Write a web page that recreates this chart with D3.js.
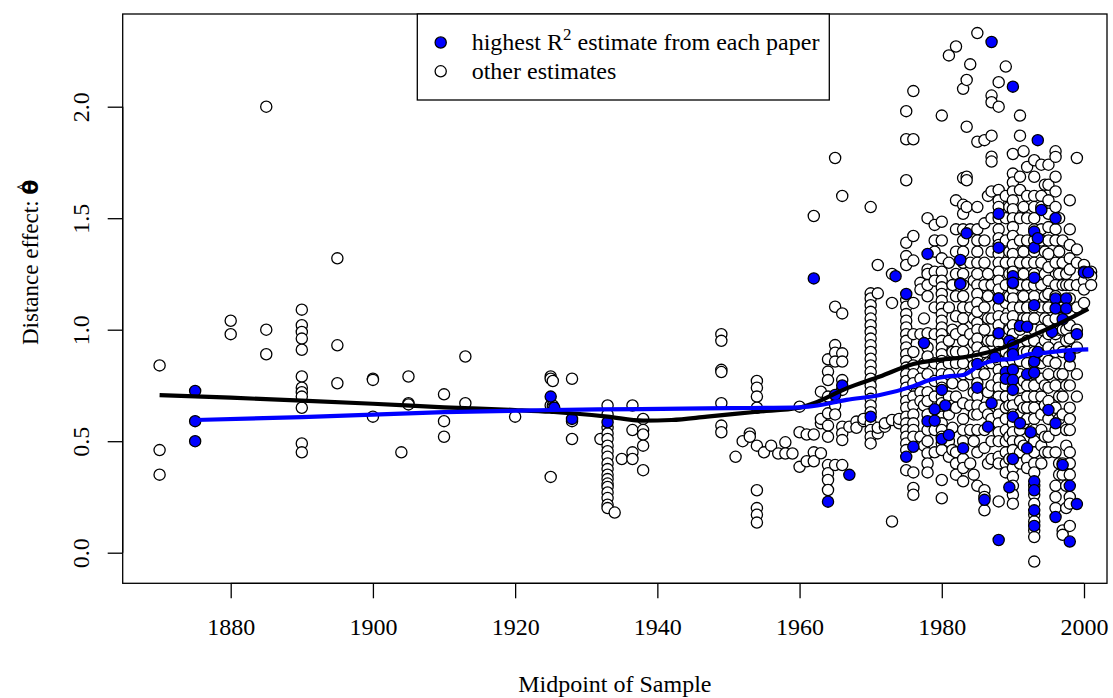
<!DOCTYPE html>
<html><head><meta charset="utf-8">
<script src="https://cdn.jsdelivr.net/npm/d3@7"></script>
<style>body{margin:0;background:#fff}svg{display:block}text{font-family:"Liberation Serif","Times New Roman",serif}</style>
</head><body><svg id="c" width="1113" height="698"></svg>
<script>
const xTicks=[1880,1900,1920,1940,1960,1980,2000];
const yTicks=[0,0.5,1,1.5,2];
const yTickLabels=["0.0","0.5","1.0","1.5","2.0"];

// highest R^2 estimate from each paper
const blueYears=[1875,1875,1875,1925,1925.5,1928,1933,1962,1964,1965,1966,1967,1970,1973.5,1975,1975,1976,1977.5,1978,1978,1979,1979,1980,1980,1980.5,1981,1982.6,1982.6,1982.6,1983,1983.5,1985,1985,1986,1986.5,1987,1987,1987.5,1988,1988,1988,1988,1988,1989,1989,1989.5,1989.5,1990,1990,1990,1990,1990,1990,1990,1990,1990,1990,1990,1991,1991,1992,1992,1992,1992.5,1993,1993,1993,1993,1993,1993,1993,1993,1993,1993,1993.5,1993.5,1993.5,1994,1995,1995.5,1996,1996,1996,1996,1996,1997,1997,1997.5,1997.5,1998,1998,1998,1999,1999,2000,2000.6];
const blueValues=[0.725,0.59,0.50,0.70,0.65,0.60,0.585,1.23,0.229,0.707,0.75,0.349,0.61,1.24,1.16,0.43,0.475,0.94,1.34,0.59,0.643,0.592,0.73,0.51,0.66,0.528,1.313,1.208,1.205,0.468,1.432,0.74,0.846,0.237,0.565,2.29,0.67,0.876,1.52,1.368,1.14,0.984,0.057,0.81,0.78,0.95,0.293,2.09,1.24,1.208,1.21,0.93,0.89,0.82,0.775,0.73,0.61,0.42,1.017,0.58,1.013,0.80,0.468,0.54,1.44,1.368,1.233,1.11,0.857,0.807,0.32,0.28,0.19,0.12,1.85,1.41,0.90,1.537,0.64,0.99,1.50,1.14,1.095,0.58,0.16,1.047,0.393,1.14,1.095,0.88,0.30,0.05,0.98,0.218,1.257,1.257];

// other estimates, grouped by midpoint year
const otherCols=[
[1870,[0.84,0.46,0.35]],
[1880,[1.04,0.98]],
[1885,[2.0,1.0,0.89]],
[1890,[1.09,1.02,0.99,0.96,0.91,0.79,0.74,0.72,0.70,0.65,0.49,0.45]],
[1895,[1.32,0.93,0.76]],
[1900,[0.78,0.775,0.61]],
[1904,[0.45]],
[1905,[0.79,0.67,0.665]],
[1910,[0.71,0.59,0.52]],
[1913,[0.88,0.67]],
[1920,[0.61]],
[1925,[0.79,0.78,0.66,0.34]],
[1925.3,[0.77,0.66,0.65]],
[1928,[0.78,0.59,0.51]],
[1932,[0.51]],
[1933,[0.66,0.62,0.56,0.535,0.51,0.48,0.455,0.43,0.40,0.375,0.35,0.33,0.31,0.295,0.27,0.245,0.215,0.20]],
[1934,[0.18]],
[1935,[0.42]],
[1936.5,[0.66,0.55,0.45,0.42]],
[1938,[0.60,0.55,0.53,0.48,0.37]],
[1949,[0.98,0.95,0.82,0.81,0.67,0.57,0.54]],
[1951,[0.43]],
[1952,[0.50]],
[1953,[0.535,0.52]],
[1954,[0.77,0.74,0.70,0.65,0.48,0.28,0.20,0.17,0.135]],
[1955,[0.45]],
[1956,[0.48]],
[1957,[0.445]],
[1958,[0.495,0.445]],
[1959,[0.445]],
[1960,[0.655,0.54,0.385]],
[1961,[0.53,0.41]],
[1962,[1.51,0.45,0.41,0.53]],
[1963,[0.722,0.58,0.446,0.60]],
[1964,[0.867,0.812,0.774,0.70,0.625,0.57,0.52,0.393,0.356,0.326,0.281]],
[1965,[1.77,1.103,0.931,0.897,0.857,0.66,0.62,0.393]],
[1966,[1.60,1.073,0.894,0.857,0.774,0.73,0.565,0.535,0.505,0.393]],
[1967,[0.565]],
[1968,[0.588,0.56]],
[1969,[0.59,0.60]],
[1970,[1.55,1.163,1.14,1.11,1.08,1.05,1.02,0.99,0.96,0.93,0.90,0.87,0.84,0.81,0.78,0.75,0.72,0.69,0.66,0.63,0.58,0.55,0.52,0.49]],
[1971,[1.29,1.163,0.535,0.56]],
[1972,[0.565,0.58]],
[1973,[1.25,1.12,0.595,0.14]],
[1974,[0.58,0.60]],
[1975,[1.98,1.854,1.67,1.39,1.33,1.29,1.133,1.103,1.07,1.04,1.01,0.98,0.95,0.92,0.89,0.86,0.83,0.80,0.77,0.74,0.71,0.68,0.65,0.61,0.58,0.55,0.52,0.49,0.46,0.37]],
[1976,[2.07,1.854,1.42,1.31,1.12,0.98,0.90,0.84,0.80,0.76,0.70,0.66,0.62,0.58,0.55,0.52,0.36,0.29,0.26]],
[1977,[1.21,1.18,0.98,0.78,0.72,0.68,0.52]],
[1977.5,[1.05,0.85,0.66,0.48]],
[1978,[1.50,1.27,1.25,1.20,1.15,0.984,0.92,0.88,0.80,0.72,0.68,0.62,0.55,0.50,0.446,0.40,0.36]],
[1979,[1.47,1.40,1.35,1.26,1.22,1.10,0.98,0.85,0.77,0.70,0.55,0.45]],
[1980,[1.96,1.484,1.40,1.32,1.26,1.22,1.19,1.16,1.13,1.10,1.07,1.04,1.01,0.98,0.95,0.92,0.89,0.86,0.83,0.80,0.77,0.74,0.70,0.67,0.64,0.61,0.58,0.55,0.52,0.49,0.46,0.326,0.244]],
[1981,[2.23,1.30,1.10,0.95,0.85,0.80,0.70,0.62,0.50,0.43]],
[1981.5,[1.20,1.00,0.90,0.76,0.66,0.56,0.46]],
[1982,[2.27,1.58,1.45,1.35,1.25,1.15,1.06,0.98,0.90,0.85,0.70,0.65,0.45,0.40,0.35]],
[1983,[2.08,1.68,1.56,1.52,1.45,1.40,1.35,1.30,1.25,1.20,1.15,1.10,1.05,1.00,0.95,0.90,0.85,0.80,0.75,0.67,0.60,0.55,0.50,0.42,0.38,0.32]],
[1983.5,[2.12,1.91,1.686,1.67,1.55]],
[1984,[2.19,1.45,1.30,1.10,0.98,0.80,0.66,0.55,0.40]],
[1984.5,[1.22,1.05,0.94,0.84,0.72,0.62,0.50,0.35]],
[1985,[2.33,1.843,1.55,1.45,1.40,1.35,1.30,1.25,1.20,1.16,1.12,1.08,1.03,1.00,0.96,0.92,0.88,0.80,0.76,0.70,0.66,0.62,0.55,0.45,0.30]],
[1986,[1.85,1.477,1.40,1.30,1.20,1.10,1.00,0.90,0.80,0.65,0.55,0.47,0.28,0.25,0.19]],
[1986.5,[1.60,1.25,1.15,1.05,0.95,0.85,0.72,0.62,0.40]],
[1987,[2.05,2.02,1.87,1.776,1.754,1.62,1.50,1.35,1.20,1.05,0.95,0.85,0.75,0.60,0.50,0.42]],
[1988,[2.11,2.0,1.627,1.58,1.55,1.50,1.45,1.41,1.38,1.34,1.30,1.26,1.22,1.18,1.14,1.10,1.06,1.02,0.98,0.94,0.90,0.86,0.82,0.78,0.74,0.70,0.66,0.62,0.58,0.54,0.50,0.43,0.40,0.23]],
[1989,[2.18,1.60,1.50,1.40,1.30,1.20,1.12,1.05,0.98,0.90,0.85,0.75,0.70,0.65,0.60,0.55,0.50,0.45,0.40,0.36]],
[1989.5,[1.55,1.35,1.25,1.15,1.00,0.88,0.66,0.52,0.42]],
[1990,[1.788,1.70,1.66,1.62,1.58,1.54,1.50,1.46,1.42,1.38,1.34,1.30,1.26,1.22,1.18,1.14,1.10,1.06,1.02,0.98,0.94,0.90,0.86,0.82,0.78,0.74,0.70,0.66,0.62,0.58,0.54,0.50,0.46,0.42,0.38,0.34,0.30,0.26,0.22]],
[1991,[1.96,1.87,1.686,1.627,1.50,1.40,1.30,1.20,1.10,1.00,0.93,0.86,0.80,0.74,0.68,0.62,0.55,0.50,0.45,0.40]],
[1991.5,[1.80,1.55,1.35,1.25,1.15,1.05,0.90,0.77,0.65,0.58,0.48]],
[1992,[1.73,1.60,1.50,1.40,1.30,1.20,1.10,1.05,0.95,0.90,0.85,0.75,0.70,0.65,0.60,0.42,0.38]],
[1993,[1.76,1.686,1.60,1.55,1.50,1.45,1.40,1.35,1.30,1.25,1.20,1.15,1.10,1.05,1.00,0.95,0.90,0.85,0.80,0.75,0.70,0.65,0.60,0.55,0.50,0.45,0.40,0.36,0.30,0.26,0.22,0.17,0.14,0.10,0.07,-0.04]],
[1994,[1.74,1.60,1.55,1.45,1.40,1.30,1.20,1.10,1.00,0.92,0.85,0.78,0.70,0.62,0.55,0.48,0.40]],
[1994.5,[1.65,1.35,1.25,1.15,1.05,0.95,0.88,0.75,0.66,0.52,0.45]],
[1995,[1.74,1.65,1.58,1.52,1.46,1.40,1.34,1.28,1.22,1.16,1.10,1.04,0.98,0.92,0.86,0.80,0.74,0.68,0.60,0.52,0.45]],
[1996,[1.80,1.775,1.686,1.62,1.55,1.45,1.40,1.30,1.20,1.15,1.05,0.98,0.90,0.85,0.75,0.65,0.55,0.45,0.30,0.25,0.20]],
[1996.5,[1.50,1.35,1.25,1.10,1.00,0.92,0.80,0.70,0.60,0.40,0.35]],
[1997,[1.40,1.30,1.20,1.10,1.00,0.90,0.80,0.70,0.62,0.40,0.35,0.10,0.08]],
[1997.5,[1.25,1.20,1.00,0.95,0.75,0.55,0.48,0.30,0.20]],
[1998,[1.58,1.45,1.38,1.32,1.27,1.20,1.14,1.08,1.02,0.96,0.90,0.84,0.75,0.65,0.60,0.55,0.45,0.40,0.35,0.25,0.22,0.12]],
[1999,[1.77,1.36,1.30,1.20,1.10,1.00,0.92,0.80,0.70]],
[2000,[1.29,1.26,1.22,1.18,1.12]],
[2001,[1.26,1.24,1.20]]
];

// smoothed fits
const allFitYears=[1870,1880,1890,1900,1910,1920,1925,1933,1938,1942,1947,1954,1960,1962,1966.6,1971.3,1976,1979.3,1983,1987.7,1992.4,1997.1,2000.6];
const allFitValues=[0.707,0.695,0.682,0.668,0.652,0.640,0.632,0.610,0.592,0.595,0.610,0.632,0.650,0.67,0.737,0.79,0.846,0.864,0.876,0.909,0.969,1.036,1.093];
const topFitYears=[1875,1890,1910,1925,1937.6,1950,1960,1962,1966.6,1971.3,1976,1978.3,1980.7,1983,1985.4,1987.7,1990.1,1992.4,1994.8,1997.1,2000.6];
const topFitValues=[0.595,0.608,0.630,0.640,0.644,0.648,0.652,0.658,0.685,0.707,0.747,0.774,0.79,0.797,0.842,0.864,0.869,0.891,0.897,0.906,0.912];

const svg=d3.select("#c");
const L=122.7,R=1107,T=14,B=583.3;
const x=d3.scaleLinear().domain([1880,2000]).range([230.7,1084]);
const y=d3.scaleLinear().domain([0,2]).range([552.7,106.7]);

svg.append("clipPath").attr("id","pc").append("rect").attr("x",L).attr("y",T).attr("width",R-L).attr("height",B-T);
const g=svg.append("g").attr("clip-path","url(#pc)");

const others=[];
otherCols.forEach(([yr,vals])=>vals.forEach(v=>others.push([yr,v])));
g.selectAll("circle.o").data(others).join("circle").attr("class","o")
 .attr("cx",d=>x(d[0])).attr("cy",d=>y(d[1])).attr("r",5.6)
 .attr("fill","#fff").attr("stroke","#000").attr("stroke-width",1.3);
g.selectAll("circle.b").data(blueYears.map((yr,i)=>[yr,blueValues[i]])).join("circle").attr("class","b")
 .attr("cx",d=>x(d[0])).attr("cy",d=>y(d[1])).attr("r",5.6)
 .attr("fill","#0000ff").attr("stroke","#000").attr("stroke-width",1.3);

const line=d3.line().curve(d3.curveMonotoneX).x(d=>x(d[0])).y(d=>y(d[1]));
g.append("path").datum(allFitYears.map((yr,i)=>[yr,allFitValues[i]])).attr("d",line)
 .attr("fill","none").attr("stroke","#000").attr("stroke-width",4.2);
g.append("path").datum(topFitYears.map((yr,i)=>[yr,topFitValues[i]])).attr("d",line)
 .attr("fill","none").attr("stroke","#0000ff").attr("stroke-width",4.2);

// axes
const xa=svg.append("g").attr("transform",`translate(0,${B})`)
 .call(d3.axisBottom(x).tickValues(xTicks).tickFormat(d3.format("d")).tickSize(15).tickPadding(0));
xa.select(".domain").attr("d",`M${x(1880)},0H${x(2000)}`).attr("stroke","#000").attr("stroke-width",1.3);
xa.selectAll(".tick line").attr("stroke","#000").attr("stroke-width",1.3);
xa.selectAll(".tick text").attr("font-size",24).attr("fill","#000").attr("dy",null).attr("y",52).attr("font-family","Liberation Serif");

const ya=svg.append("g").attr("transform",`translate(${L},0)`)
 .call(d3.axisLeft(y).tickValues(yTicks).tickFormat((d,i)=>yTickLabels[i]).tickSize(15));
ya.select(".domain").attr("d",`M0,${y(0)}V${y(2)}`).attr("stroke","#000").attr("stroke-width",1.3);
ya.selectAll(".tick line").attr("stroke","#000").attr("stroke-width",1.3);
ya.selectAll(".tick text").attr("font-size",24).attr("fill","#000").attr("x",null).attr("dy",null)
 .attr("text-anchor","middle").attr("transform","translate(-34,0) rotate(-90)").attr("font-family","Liberation Serif");

svg.append("rect").attr("x",L).attr("y",T).attr("width",R-L).attr("height",B-T)
 .attr("fill","none").attr("stroke","#000").attr("stroke-width",1.3);

svg.append("text").attr("x",(L+R)/2).attr("y",692).attr("text-anchor","middle").attr("font-size",24).text("Midpoint of Sample");

const yl=svg.append("text").attr("transform",`translate(38,345) rotate(-90)`).attr("text-anchor","start").attr("font-size",23);
yl.append("tspan").text("Distance effect:  ");
const th=yl.append("tspan").attr("font-family","DejaVu Sans").attr("font-weight","bold").attr("font-size",22).text("θ");

// legend
const lg=svg.append("g");
lg.append("rect").attr("x",417.3).attr("y",T).attr("width",829.3-417.3).attr("height",100-T).attr("fill","#fff").attr("stroke","#000").attr("stroke-width",1.3);
lg.append("circle").attr("cx",440.7).attr("cy",42.5).attr("r",5.6).attr("fill","#0000ff").attr("stroke","#000").attr("stroke-width",1.3);
lg.append("circle").attr("cx",440.7).attr("cy",71.3).attr("r",5.6).attr("fill","#fff").attr("stroke","#000").attr("stroke-width",1.3);
const t1=lg.append("text").attr("x",471.7).attr("y",50).attr("font-size",24);
t1.append("tspan").text("highest R");
t1.append("tspan").attr("font-size",17).attr("dy",-10).text("2");
t1.append("tspan").attr("dy",10).text(" estimate from each paper");
lg.append("text").attr("x",471.7).attr("y",79).attr("font-size",24).text("other estimates");

// hat over theta: in rotated frame, "above" = toward smaller screen x
const bb=th.node().getBBox();
const m=th.node().getCTM();
const pt=svg.node().createSVGPoint(); pt.x=bb.x+bb.width/2; pt.y=bb.y+4;
const sp=pt.matrixTransform(m);
svg.append("text").attr("transform",`translate(${sp.x+9},${sp.y}) rotate(-90)`).attr("text-anchor","middle").attr("font-size",20).attr("font-family","DejaVu Sans").text("^");
</script></body></html>
